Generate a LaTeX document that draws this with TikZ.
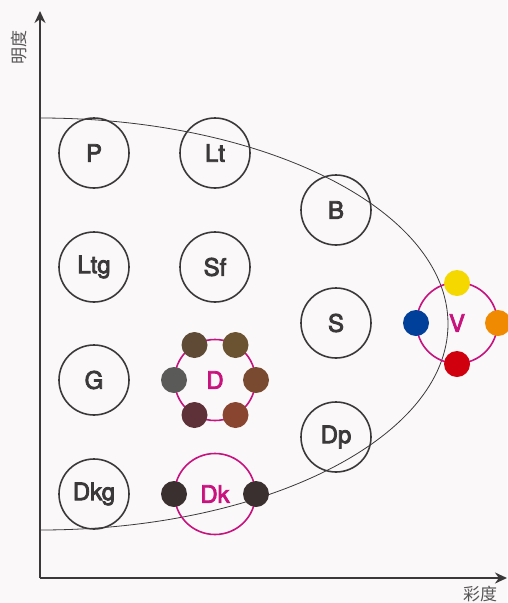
\documentclass[tikz,border=0pt]{standalone}
\usepackage{fontspec}
\setmainfont{TeX Gyre Heros}
\newfontfamily\lab{TeX Gyre Heros}
\newfontfamily\cjk{Noto Sans CJK SC}
\newcommand\embtxt[1]{\special{pdf:literal direct 2 Tr 0.8 w}#1\special{pdf:literal direct 0 Tr}}
\usetikzlibrary{arrows.meta}
\definecolor{bg}{HTML}{FBF8F9}
\definecolor{ink}{HTML}{3A3838}
\definecolor{mag}{HTML}{C8127E}
\definecolor{cA}{HTML}{5E4A35}
\definecolor{cB}{HTML}{6B5230}
\definecolor{cC}{HTML}{5A5A58}
\definecolor{cD}{HTML}{7A4A30}
\definecolor{cE}{HTML}{5E3038}
\definecolor{cF}{HTML}{8A4530}
\definecolor{cK}{HTML}{3A3030}
\definecolor{cY}{HTML}{F5D800}
\definecolor{cBl}{HTML}{003F9A}
\definecolor{cO}{HTML}{F08A00}
\definecolor{cR}{HTML}{D0000F}
\tikzset{
  tone/.style={circle,draw=ink,line width=1.6pt,minimum size=70pt,inner sep=0pt,text=ink,font=\lab\fontsize{24}{24}\selectfont},
  ring/.style={circle,draw=mag,line width=1.6pt,minimum size=81pt,inner sep=0pt,text=mag,font=\lab\fontsize{24}{24}\selectfont},
  dot/.style={circle,fill=#1,minimum size=26pt,inner sep=0pt},
  axis/.style={line width=2.2pt,draw=ink,-{Stealth[length=12pt,width=11pt]}},
  axlabel/.style={text=ink!85,font=\cjk\fontsize{17}{17}\selectfont}
}
\begin{document}
\begin{tikzpicture}[x=1pt,y=-1pt]
\useasboundingbox (0,0) rectangle (507,603);
\fill[bg] (0,0) rectangle (507,603);
% ellipse boundary
\draw[ink,line width=0.8pt] (40,118) arc[start angle=-90,end angle=90,x radius=408,y radius=206];
% axes
\coordinate (o) at (40,578);
\coordinate (ytop) at (40,11);
\coordinate (xend) at (507,578);
\draw[axis] (o) -- (ytop);
\draw[axis] (o) -- (xend);
\node[axlabel,rotate=90] (ylab) at (19,47) {明度};
\node[axlabel] (xlab) at (480,594) {彩度};
% tone circles
\node[tone] (P) at (94,153) {\embtxt{P}};
\node[tone] (Lt) at (215,153) {\embtxt{Lt}};
\node[tone] (Ltg) at (94,267) {\embtxt{Ltg}};
\node[tone] (Sf) at (215,267) {\embtxt{Sf}};
\node[tone] (G) at (94,380) {\embtxt{G}};
\node[tone] (Dkg) at (94,494) {\embtxt{Dkg}};
\node[tone] (B) at (336,210) {\embtxt{B}};
\node[tone] (S) at (336,323) {\embtxt{S}};
\node[tone] (Dp) at (336,437) {\embtxt{Dp}};
% D ring
\node[ring] (D) at (215,380) {\embtxt{D}};
\node[dot=cA] (d1) at (194.5,345) {};
\node[dot=cB] (d2) at (235.5,345) {};
\node[dot=cC] (d3) at (174,380) {};
\node[dot=cD] (d4) at (256,380) {};
\node[dot=cE] (d5) at (194.5,415) {};
\node[dot=cF] (d6) at (235.5,415) {};
% Dk ring
\node[ring] (Dk) at (215,494) {\embtxt{Dk}};
\node[dot=cK] (k1) at (174,494) {};
\node[dot=cK] (k2) at (256,494) {};
% V ring
\node[ring] (V) at (457,323) {\embtxt{V}};
\node[dot=cY] (v1) at (457,283) {};
\node[dot=cBl] (v2) at (416,323) {};
\node[dot=cO] (v3) at (498,323) {};
\node[dot=cR] (v4) at (457,364) {};
\end{tikzpicture}
\end{document}
